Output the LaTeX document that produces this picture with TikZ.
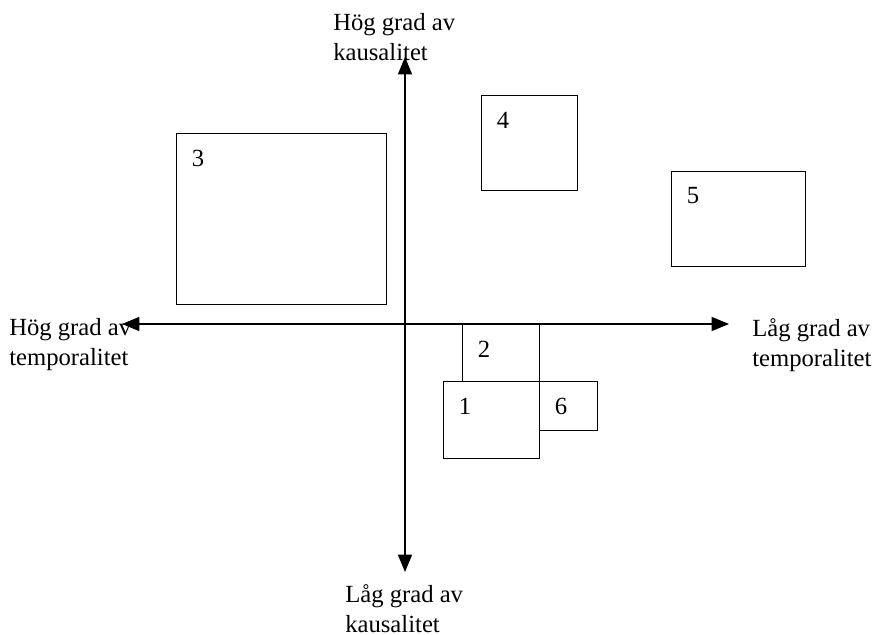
\documentclass[tikz,border=0pt]{standalone}
\usepackage{fontspec}
\setmainfont{Liberation Serif}
\usepackage{tikz}
\usetikzlibrary{arrows.meta,positioning,calc}

\begin{document}
\begin{tikzpicture}[x=0.75pt,y=-0.75pt]
  \tikzstyle{box} = [rectangle, draw, line width=0.75pt, inner sep=0pt, anchor=north west]
  \tikzstyle{num} = [font=\fontsize{18.5}{22.5}\selectfont, inner sep=0pt]
  \tikzstyle{caption} = [font=\fontsize{18.5}{22.5}\selectfont, align=left, inner sep=0pt, anchor=north west]
  \tikzstyle{axis} = [line width=1pt,<->,>={Triangle[length=13pt,width=10.5pt]}]

  \useasboundingbox (0,0) rectangle (876,635);

  % axis ends
  \coordinate (ytop) at (405,57);
  \coordinate (ybot) at (405,572);
  \coordinate (xleft) at (122,324);
  \coordinate (xright) at (729,324);

  \draw[axis] (ybot) -- (ytop);
  \draw[axis] (xleft) -- (xright);

  % axis texts
  \node[caption] (highcaus) at (333,13) {Hög grad av\\kausalitet};
  \node[caption] (lowcaus) at (345,584) {Låg grad av\\kausalitet};
  \node[caption] (hightemp) at (9,318) {Hög grad av\\temporalitet};
  \node[caption] (lowtemp) at (752,318) {Låg grad av\\temporalitet};

  % the six fields
  \node[box, minimum width=157.5pt, minimum height=128.25pt] (box3) at (176,133) {};
  \node[box, minimum width=72pt, minimum height=71.25pt] (box4) at (481,95) {};
  \node[box, minimum width=100.5pt, minimum height=71.25pt] (box5) at (671,171) {};
  \node[box, minimum width=57.75pt, minimum height=42.75pt] (box2) at (462,324) {};
  \node[box, minimum width=72pt, minimum height=57.75pt] (box1) at (443,381) {};
  \node[box, minimum width=43.5pt, minimum height=36.75pt] (box6) at (539,381) {};

  \foreach \n in {1,...,6}
    \node[num] at ($(box\n.north west)+(22,25)$) {\n};
\end{tikzpicture}
\end{document}
